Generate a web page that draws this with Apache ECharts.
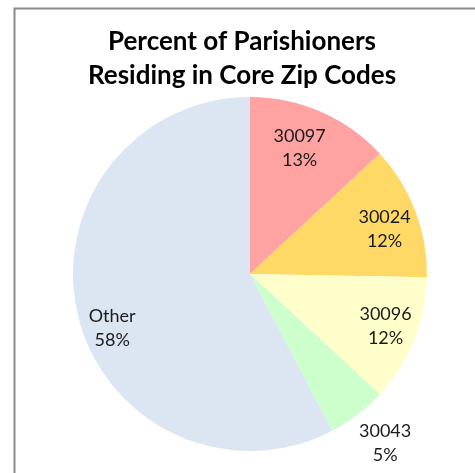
<!DOCTYPE html>
<html>
<head>
<meta charset="utf-8">
<script src="https://cdn.jsdelivr.net/npm/echarts@6/dist/echarts.min.js"></script>
<style>
html,body{margin:0;padding:0;background:#fff;}
#c{width:475px;height:473px;}
</style>
</head>
<body>
<div id="c"></div>
<script>
var categories = ['30097', '30024', '30096', '30043', 'Other'];
var values = [13.1, 12.2, 11.6, 5.4, 57.7];
var colors = ['#FFA2A2', '#FFD966', '#FFFFCC', '#CCFFCC', '#DCE6F2'];
var outsideLabels = ['30043'];
var titleLines = ['Percent of Parishioners', 'Residing in Core Zip Codes'];

// small label nudges (style, not data)
var labelNudge = {'30097': [-8, 6], '30024': [0, 7], '30096': [2, -2], '30043': [2, -5], 'Other': [2, 20]};

var chart = echarts.init(document.getElementById('c'), null, {renderer: 'canvas'});
var total = values.reduce(function (a, b) { return a + b; }, 0);
function fmt(p) {
  return p.name + '\n' + Math.round(p.value / total * 100) + '%';
}
var center = [250, 274];
var labelFont = {fontFamily: 'Lato', fontSize: 18, color: '#1a1a1a', lineHeight: 24};

var visible = categories.map(function (c, i) {
  return {name: c, value: values[i], itemStyle: {color: colors[i]}};
});
var innerLabels = categories.map(function (c, i) {
  return {name: c, value: values[i], label: {show: outsideLabels.indexOf(c) < 0, offset: labelNudge[c]}};
});
var outerLabels = categories.map(function (c, i) {
  return {name: c, value: values[i], label: {show: outsideLabels.indexOf(c) >= 0, offset: labelNudge[c]}};
});

chart.setOption({
  animation: false,
  backgroundColor: '#ffffff',
  title: {
    text: titleLines.join('\n'),
    left: 237,
    textAlign: 'center',
    top: 20,
    textStyle: {fontFamily: 'Lato', fontWeight: 'bold', fontSize: 26, lineHeight: 34, color: '#000'}
  },
  graphic: [{
    type: 'polyline',
    shape: {points: [[14.5, 480], [14.5, 8.5], [480, 8.5]]},
    style: {stroke: '#8a8a8a', lineWidth: 2, fill: null},
    silent: true
  }],
  series: [{
    type: 'pie',
    center: center,
    radius: [0, 177],
    startAngle: 90,
    clockwise: true,
    silent: true,
    label: {show: false},
    labelLine: {show: false},
    itemStyle: {borderWidth: 0},
    data: visible
  }, {
    type: 'pie',
    center: center,
    radius: [0, 282],
    startAngle: 90,
    clockwise: true,
    silent: true,
    itemStyle: {color: 'rgba(0,0,0,0)', borderWidth: 0},
    label: Object.assign({position: 'inside', formatter: fmt, align: 'center'}, labelFont),
    labelLine: {show: false},
    data: innerLabels
  }, {
    type: 'pie',
    center: center,
    radius: [0, 432],
    startAngle: 90,
    clockwise: true,
    silent: true,
    itemStyle: {color: 'rgba(0,0,0,0)', borderWidth: 0},
    label: Object.assign({position: 'inside', formatter: fmt, align: 'center'}, labelFont),
    labelLine: {show: false},
    data: outerLabels
  }]
});
</script>
</body>
</html>
